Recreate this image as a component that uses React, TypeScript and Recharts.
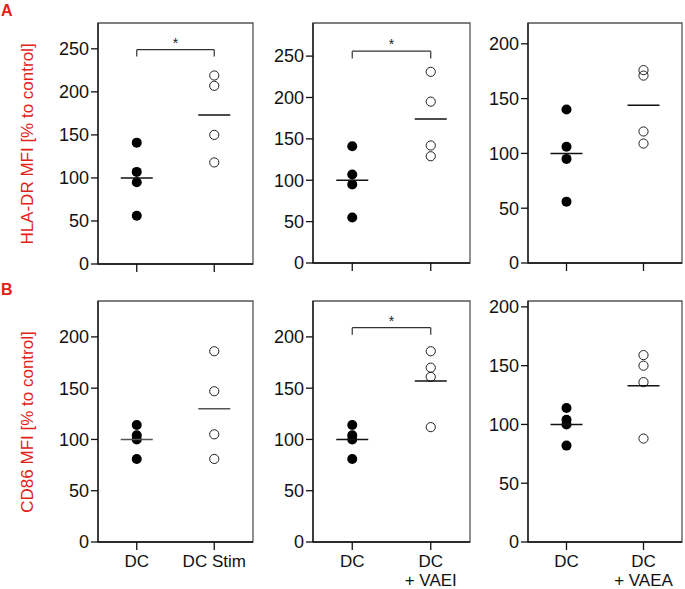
import React from "react";
import {
  ReferenceArea,
  ReferenceLine,
  Scatter,
  ScatterChart,
  XAxis,
  YAxis,
} from "recharts";

const FONT = "'Liberation Sans', Arial, sans-serif";
const RED = "#e32119";

// x position of the two groups on a 0..2 axis
const groupX = [0.5, 1.5];

const hlaStimDC = [141, 107, 95, 56];
const hlaStim = [219, 207, 150, 118];
const hlaStimMeans = [100, 173];

const hlaVaeiDC = [141, 107, 95, 55];
const hlaVaei = [231, 195, 142, 129];
const hlaVaeiMeans = [100, 174];

const hlaVaeaDC = [140, 106, 95, 56];
const hlaVaea = [176, 171, 120, 109];
const hlaVaeaMeans = [100, 144];

const cd86StimDC = [114, 104, 100, 81];
const cd86Stim = [186, 147, 105, 81];
const cd86StimMeans = [100, 130];

const cd86VaeiDC = [114, 104, 100, 81];
const cd86Vaei = [186, 170, 161, 112];
const cd86VaeiMeans = [100, 157];

const cd86VaeaDC = [114, 104, 100, 82];
const cd86Vaea = [159, 150, 136, 88];
const cd86VaeaMeans = [100, 133];

const labelsStim = ["DC", "DC Stim"];
const labelsVaei = ["DC", "DC|+ VAEI"];
const labelsVaea = ["DC", "DC|+ VAEA"];

const ticks250 = [0, 50, 100, 150, 200, 250];
const ticks200 = [0, 50, 100, 150, 200];

type PanelProps = {
  left: number;
  top: number;
  plotW: number;
  plotH: number;
  yMax: number;
  yTicks: number[];
  ctrl: number[];
  treated: number[];
  means: number[];
  labels?: string[];
  bracket?: [number, number];
  meanColor?: string;
};

const YW = 55;
const XH = 50;
const TM = 8;

function Panel({
  left,
  top,
  plotW,
  plotH,
  yMax,
  yTicks,
  ctrl,
  treated,
  means,
  labels,
  bracket,
  meanColor = "#111",
}: PanelProps) {
  const ctrlData = ctrl.map((y) => ({ x: groupX[0], y }));
  const treatedData = treated.map((y) => ({ x: groupX[1], y }));
  const meanData = means.map((y, i) => ({ x: groupX[i], y }));
  const starData = bracket ? [{ x: 1, y: bracket[1] }] : [];

  return (
    <div style={{ position: "absolute", left: left - YW, top: top - TM }}>
      <ScatterChart
        width={YW + plotW + 4}
        height={TM + plotH + XH}
        margin={{ top: TM, right: 4, left: 0, bottom: 0 }}
      >
        <XAxis
          type="number"
          dataKey="x"
          domain={[0, 2]}
          ticks={groupX}
          height={XH}
          tickSize={8}
          tickMargin={5}
          stroke="#111"
          strokeWidth={1.3}
          tick={(p: any) => {
            if (!labels) return <g />;
            const idx = p.payload.value < 1 ? 0 : 1;
            const lines = labels[idx].split("|");
            return (
              <text
                x={p.x}
                y={p.y}
                textAnchor="middle"
                fill="#111"
                fontSize={17}
                fontFamily={FONT}
              >
                {lines.map((l, i) => (
                  <tspan key={i} x={p.x} dy={i === 0 ? "0.71em" : 19}>
                    {l}
                  </tspan>
                ))}
              </text>
            );
          }}
        />
        <YAxis
          type="number"
          dataKey="y"
          domain={[0, yMax]}
          ticks={yTicks}
          width={YW}
          tickSize={7}
          tickMargin={2}
          stroke="#111"
          strokeWidth={1.3}
          tick={{ fill: "#111", fontSize: 18, fontFamily: FONT }}
        />
        <ReferenceArea
          x1={0}
          x2={2}
          y1={0}
          y2={yMax}
          fill="none"
          stroke="#555"
          strokeWidth={1.3}
        />
        {bracket && (
          <ReferenceLine
            segment={[
              { x: groupX[0], y: bracket[1] },
              { x: groupX[1], y: bracket[1] },
            ]}
            stroke="#333"
            strokeWidth={1.2}
          />
        )}
        {bracket && (
          <ReferenceLine
            segment={[
              { x: groupX[0], y: bracket[0] },
              { x: groupX[0], y: bracket[1] },
            ]}
            stroke="#333"
            strokeWidth={1.2}
          />
        )}
        {bracket && (
          <ReferenceLine
            segment={[
              { x: groupX[1], y: bracket[0] },
              { x: groupX[1], y: bracket[1] },
            ]}
            stroke="#333"
            strokeWidth={1.2}
          />
        )}
        {bracket && (
          <Scatter
            data={starData}
            isAnimationActive={false}
            shape={(p: any) => (
              <text
                x={p.cx}
                y={p.cy - 2}
                textAnchor="middle"
                fontSize={14}
                fill="#222"
                fontFamily={FONT}
              >
                *
              </text>
            )}
          />
        )}
        <Scatter
          data={ctrlData}
          isAnimationActive={false}
          shape={(p: any) => (
            <circle cx={p.cx} cy={p.cy} r={5} fill="#000" />
          )}
        />
        <Scatter
          data={treatedData}
          isAnimationActive={false}
          shape={(p: any) => (
            <circle
              cx={p.cx}
              cy={p.cy}
              r={4.6}
              fill="none"
              stroke="#222"
              strokeWidth={1}
            />
          )}
        />
        <Scatter
          data={meanData}
          isAnimationActive={false}
          shape={(p: any) => (
            <line
              x1={p.cx - 16}
              x2={p.cx + 16}
              y1={p.cy}
              y2={p.cy}
              stroke={meanColor}
              strokeWidth={1.5}
            />
          )}
        />
      </ScatterChart>
    </div>
  );
}

export default function App() {
  return (
    <div
      style={{
        position: "absolute",
        left: 0,
        top: 0,
        width: 685,
        height: 589,
        overflow: "hidden",
        background: "#fff",
        fontFamily: FONT,
      }}
    >
      <Panel
        left={98}
        top={23}
        plotW={155}
        plotH={241}
        yMax={280}
        yTicks={ticks250}
        ctrl={hlaStimDC}
        treated={hlaStim}
        means={hlaStimMeans}
        bracket={[241, 249]}
      />
      <Panel
        left={313}
        top={23}
        plotW={157}
        plotH={240}
        yMax={290}
        yTicks={ticks250}
        ctrl={hlaVaeiDC}
        treated={hlaVaei}
        means={hlaVaeiMeans}
        bracket={[247, 256]}
      />
      <Panel
        left={528}
        top={23}
        plotW={154}
        plotH={240}
        yMax={219}
        yTicks={ticks200}
        ctrl={hlaVaeaDC}
        treated={hlaVaea}
        means={hlaVaeaMeans}
      />
      <Panel
        left={98}
        top={301}
        plotW={155}
        plotH={241}
        yMax={235}
        yTicks={ticks200}
        ctrl={cd86StimDC}
        treated={cd86Stim}
        means={cd86StimMeans}
        labels={labelsStim}
        meanColor="#555"
      />
      <Panel
        left={313}
        top={301}
        plotW={157}
        plotH={241}
        yMax={235}
        yTicks={ticks200}
        ctrl={cd86VaeiDC}
        treated={cd86Vaei}
        means={cd86VaeiMeans}
        labels={labelsVaei}
        bracket={[202, 209]}
      />
      <Panel
        left={528}
        top={301}
        plotW={154}
        plotH={241}
        yMax={205}
        yTicks={ticks200}
        ctrl={cd86VaeaDC}
        treated={cd86Vaea}
        means={cd86VaeaMeans}
        labels={labelsVaea}
      />
      <svg
        width={685}
        height={589}
        style={{ position: "absolute", left: 0, top: 0, pointerEvents: "none" }}
      >
        <text x={1} y={16} fill={RED} fontSize={16} fontWeight="bold" fontFamily={FONT}>
          A
        </text>
        <text x={1} y={295} fill={RED} fontSize={16} fontWeight="bold" fontFamily={FONT}>
          B
        </text>
        <text
          x={33}
          y={144}
          transform="rotate(-90, 33, 144)"
          textAnchor="middle"
          fill={RED}
          fontSize={17}
          fontFamily={FONT}
        >
          HLA-DR MFI [% to control]
        </text>
        <text
          x={33}
          y={422}
          transform="rotate(-90, 33, 422)"
          textAnchor="middle"
          fill={RED}
          fontSize={17}
          fontFamily={FONT}
        >
          CD86 MFI [% to control]
        </text>
      </svg>
    </div>
  );
}
